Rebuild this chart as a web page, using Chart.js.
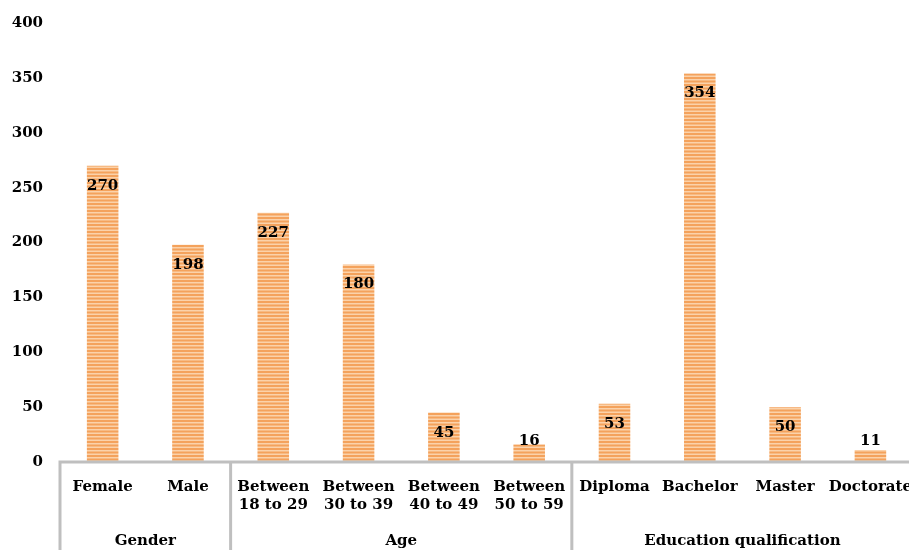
<!DOCTYPE html>
<html>
<head>
<meta charset="utf-8">
<script src="https://cdn.jsdelivr.net/npm/chart.js@4"></script>
<style>
  html, body { margin: 0; padding: 0; background: #fff; overflow: hidden; }
  #wrap { width: 920px; height: 550px; }
</style>
</head>
<body>
<div id="wrap"><canvas id="chart" width="920" height="550"></canvas></div>
<script>
const categories = [
  ["Female"], ["Male"],
  ["Between", "18 to 29"], ["Between", "30 to 39"], ["Between", "40 to 49"], ["Between", "50 to 59"],
  ["Diploma"], ["Bachelor"], ["Master"], ["Doctorate"]
];
const counts = [270, 198, 227, 180, 45, 16, 53, 354, 50, 11];
const groups = ["Gender", "Age", "Education qualification"];
const groupSizes = [2, 4, 4];
const yTicks = [0, 50, 100, 150, 200, 250, 300, 350, 400];

const font = "'DejaVu Serif', serif";
const axisGray = "#bfbfbf";

// striped orange fill like the original
const makeStripes = () => {
  const c = document.createElement("canvas");
  c.width = 4;
  c.height = 7;
  const g = c.getContext("2d");
  g.fillStyle = "#fbd2aa";
  g.fillRect(0, 0, 4, 7);
  g.fillStyle = "#f4a25c";
  g.fillRect(0, 0, 4, 2);
  g.fillRect(0, 3.5, 4, 2);
  return g.createPattern(c, "repeat");
};

const groupAxis = {
  id: "groupAxis",
  afterDraw(chart) {
    const { ctx, chartArea } = chart;
    const x = chart.scales.x;
    const step = x.getPixelForValue(1) - x.getPixelForValue(0);
    const bottom = chart.height;
    ctx.save();
    ctx.strokeStyle = axisGray;
    ctx.lineWidth = 3;
    ctx.beginPath();
    ctx.moveTo(chartArea.left - 1.5, chartArea.bottom);
    ctx.lineTo(chartArea.right, chartArea.bottom);
    let idx = 0;
    const edges = [0];
    groupSizes.forEach((n) => { idx += n; edges.push(idx); });
    edges.forEach((e) => {
      const px = x.getPixelForValue(0) - step / 2 + e * step;
      ctx.moveTo(px, chartArea.bottom);
      ctx.lineTo(px, bottom);
    });
    ctx.stroke();

    ctx.fillStyle = "#000";
    ctx.font = "bold 15px " + font;
    ctx.textAlign = "center";
    ctx.textBaseline = "middle";
    let start = 0;
    groups.forEach((name, i) => {
      const mid = (x.getPixelForValue(start) + x.getPixelForValue(start + groupSizes[i] - 1)) / 2;
      ctx.fillText(name, mid, 541);
      start += groupSizes[i];
    });
    ctx.restore();
  }
};

const barLabels = {
  id: "barLabels",
  afterDatasetsDraw(chart) {
    const { ctx } = chart;
    const meta = chart.getDatasetMeta(0);
    ctx.save();
    ctx.fillStyle = "#000";
    ctx.font = "bold 15px " + font;
    ctx.textAlign = "center";
    ctx.textBaseline = "middle";
    meta.data.forEach((bar, i) => {
      const y = Math.min(bar.y + 20, bar.base - 21);
      ctx.fillText(String(counts[i]), bar.x, y);
    });
    ctx.restore();
  }
};

new Chart(document.getElementById("chart"), {
  type: "bar",
  data: {
    labels: categories,
    datasets: [{
      data: counts,
      backgroundColor: makeStripes(),
      borderWidth: 0,
      barPercentage: 0.37,
      categoryPercentage: 1
    }]
  },
  options: {
    responsive: false,
    animation: false,
    layout: { padding: { top: 23, right: 0, bottom: 0, left: 0 } },
    plugins: { legend: { display: false }, tooltip: { enabled: false } },
    scales: {
      x: {
        grid: { display: false },
        border: { display: false },
        ticks: {
          color: "#000",
          font: { family: font, size: 15, weight: "bold" },
          maxRotation: 0,
          autoSkip: false,
          padding: 8
        },
        afterFit: (s) => { s.height = 88; }
      },
      y: {
        min: 0,
        max: 400,
        afterBuildTicks: (s) => { s.ticks = yTicks.map((v) => ({ value: v })); },
        grid: { display: false },
        border: { display: false },
        ticks: {
          color: "#000",
          font: { family: font, size: 15, weight: "bold" },
          padding: 9
        },
        afterFit: (s) => { s.width = 60; }
      }
    }
  },
  plugins: [groupAxis, barLabels]
});
</script>
</body>
</html>
